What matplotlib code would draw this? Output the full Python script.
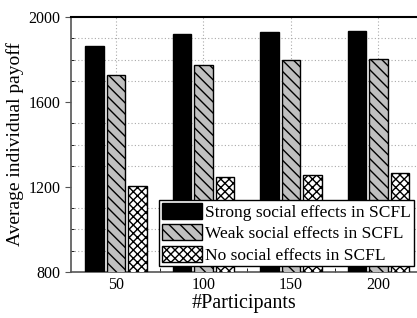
import numpy as np
from matplotlib import pylab as plt

plt.rcParams['font.family'] = ['Liberation Serif', 'DejaVu Serif']
plt.rcParams['hatch.linewidth'] = 1.0

participants = ["50", "100", "150", "200"]
strong = [1865, 1919, 1928, 1934]
weak = [1727, 1773, 1799, 1804]
no_social = [1205, 1247, 1256, 1267]
labels = ["Strong social effects in SCFL",
          "Weak social effects in SCFL",
          "No social effects in SCFL"]

fig = plt.figure(figsize=(4.17, 3.18), dpi=100)
ax = fig.add_axes([0.170, 0.145, 0.83, 0.801])

x = np.arange(len(participants))
w = 0.21
off = 0.245

ax.bar(x - off, strong, w, color="black", edgecolor="black", linewidth=1,
       label=labels[0], zorder=3)
ax.bar(x, weak, w, color="#c0c0c0", edgecolor="black", linewidth=1,
       hatch="\\\\\\", label=labels[1], zorder=3)
ax.bar(x + off, no_social, w, color="white", edgecolor="black", linewidth=1,
       hatch="xxxx", label=labels[2], zorder=3)

ax.set_xlim(-0.514, 3.44)
ax.set_ylim(800, 2000)
ax.set_xticks(x)
ax.set_xticklabels(participants)
ax.set_xticks(x[:-1] + 0.5, minor=True)
ax.set_yticks([800, 1200, 1600, 2000])
ax.set_yticks(np.arange(800, 2001, 100), minor=True)

# dotted grid: vertical at categories, horizontal every 100
ax.grid(True, which="major", axis="x", linestyle=(0, (1, 2)), color="#aaaaaa", linewidth=0.8, zorder=0)
ax.grid(True, which="minor", axis="y", linestyle=(0, (1, 2)), color="#aaaaaa", linewidth=0.8, zorder=0)

for side in ["left", "bottom"]:
    ax.spines[side].set_color("#555555")
    ax.spines[side].set_linewidth(1.2)
ax.spines["top"].set_linewidth(1.5)
ax.spines["right"].set_visible(False)

ax.tick_params(axis="both", which="major", labelsize=11.5, length=4, color="#555555")
ax.tick_params(axis="x", which="both", direction="in")
ax.tick_params(axis="y", which="major", direction="out")
ax.tick_params(axis="y", which="minor", direction="in", length=2)
ax.tick_params(axis="x", which="minor", length=3)

ax.set_xlabel("#Participants", fontsize=14.5, labelpad=1)
ax.set_ylabel("Average individual payoff", fontsize=14, labelpad=3)

leg = ax.legend(loc="lower right", bbox_to_anchor=(0.995, 0.015), fontsize=12.5,
                handlelength=2.3, handleheight=1.05, handletextpad=0.2,
                labelspacing=0.2, borderpad=0.15, borderaxespad=0.1,
                fancybox=False, framealpha=1, edgecolor="black")
leg.get_frame().set_linewidth(1.0)
leg.set_zorder(5)

plt.savefig("out.png", dpi=100)
